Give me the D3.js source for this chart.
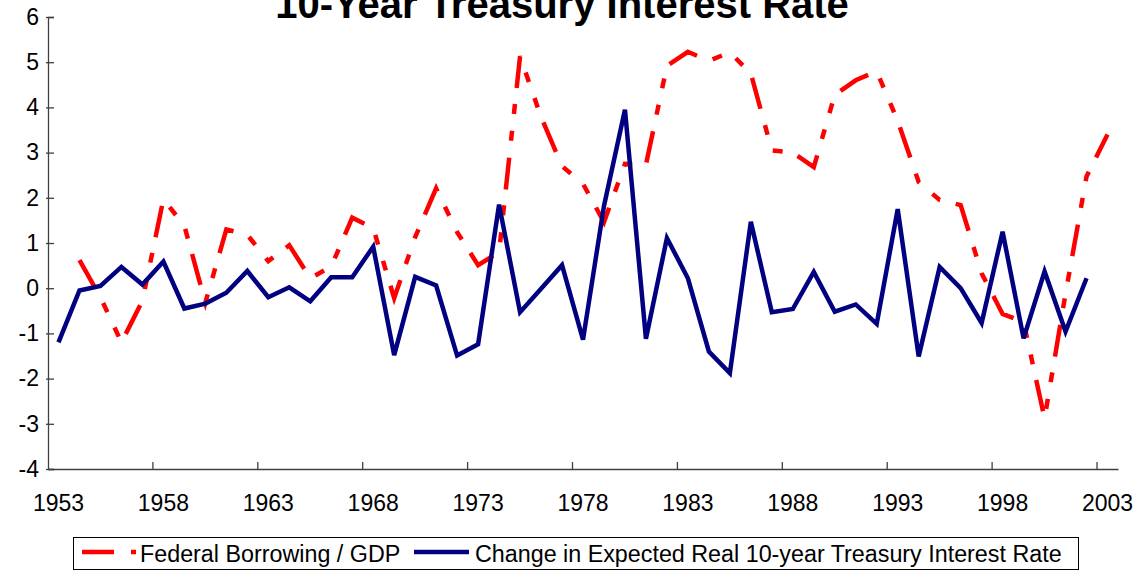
<!DOCTYPE html>
<html>
<head>
<meta charset="utf-8">
<script src="https://cdn.jsdelivr.net/npm/d3@7"></script>
<style>
  html, body { margin: 0; padding: 0; background: #fff; }
  svg { display: block; font-family: Arial, "Liberation Sans", sans-serif; }
</style>
</head>
<body>
<svg id="chart" width="1139" height="571"></svg>
<script>
// ---- Data ----
const years = [1953,1954,1955,1956,1957,1958,1959,1960,1961,1962,1963,1964,1965,1966,1967,1968,1969,1970,1971,1972,1973,1974,1975,1976,1977,1978,1979,1980,1981,1982,1983,1984,1985,1986,1987,1988,1989,1990,1991,1992,1993,1994,1995,1996,1997,1998,1999,2000,2001,2002,2003];

// Federal Borrowing / GDP (1954-2003)
const borrowingYears = years.slice(1);
const borrowing = [0.62,-0.20,-1.20,-0.28,1.97,1.38,-0.32,1.30,1.18,0.60,0.95,0.22,0.48,1.56,1.33,-0.22,1.13,2.21,1.24,0.51,0.80,5.13,3.79,2.70,2.31,1.46,2.75,2.73,4.92,5.23,5.03,5.22,4.75,3.05,3.00,2.68,4.28,4.60,4.80,3.70,2.35,1.95,1.84,0.33,-0.57,-0.75,-2.88,-0.12,2.47,3.40];

// Change in Expected Real 10-year Treasury Interest Rate (1953-2002)
const rateYears = years.slice(0, 50);
const rateChange = [-1.20,-0.05,0.05,0.47,0.08,0.59,-0.45,-0.34,-0.10,0.38,-0.20,0.02,-0.29,0.24,0.24,0.92,-1.48,0.25,0.06,-1.49,-1.24,1.85,-0.53,-0.01,0.51,-1.14,1.82,3.95,-1.12,1.11,0.22,-1.40,-1.88,1.47,-0.53,-0.46,0.36,-0.52,-0.36,-0.79,1.75,-1.51,0.47,0.00,-0.77,1.25,-1.11,0.37,-0.96,0.22];

const yTicks = [-4,-3,-2,-1,0,1,2,3,4,5,6];
const xLabelYears = [1953,1958,1963,1968,1973,1978,1983,1988,1993,1998,2003];
const xTickYears = [1958,1963,1968,1973,1978,1983,1988,1993,1998,2003];

const titleText = "10-Year Treasury Interest Rate";
const seriesNames = ["Federal Borrowing / GDP", "Change in Expected Real 10-year Treasury Interest Rate"];

(function () {
// ---- Layout ----
const mLeft = 48, mRight = 1118, mTop = 17, mBottom = 469;
const svg = d3.select("#chart");

const x = d3.scaleBand().domain(years).range([mLeft, mRight]).padding(0);
const cx = yr => x(yr) + x.bandwidth() / 2;
const y = d3.scaleLinear().domain([-4, 6]).range([mBottom, mTop]);

const axisColor = "#404040";

// Title
svg.append("text")
  .attr("x", 562).attr("y", 18)
  .attr("text-anchor", "middle")
  .attr("font-size", 40).attr("font-weight", "bold")
  .attr("fill", "#000")
  .text(titleText);

// Y axis
const yAxis = svg.append("g")
  .attr("transform", `translate(${mLeft},0)`)
  .call(d3.axisLeft(y).tickValues(yTicks).tickSize(-6).tickPadding(9).tickFormat(d => String(d)));
yAxis.select(".domain").attr("stroke", axisColor).attr("stroke-width", 1.3);
yAxis.selectAll(".tick line").attr("stroke", axisColor).attr("stroke-width", 1.3).attr("x1", -2);
yAxis.selectAll(".tick text").attr("font-size", 23).attr("fill", "#000")
  .attr("font-family", "Arial, 'Liberation Sans', sans-serif");

// X axis (labels at category centers)
const xAxis = svg.append("g")
  .attr("transform", `translate(0,${mBottom})`)
  .call(d3.axisBottom(x).tickValues(xLabelYears).tickSize(0).tickPadding(26).tickFormat(d => String(d)));
xAxis.select(".domain").attr("stroke", axisColor).attr("stroke-width", 1.3);
xAxis.selectAll(".tick line").remove();
xAxis.selectAll(".tick text").attr("font-size", 23).attr("fill", "#000")
  .attr("font-family", "Arial, 'Liberation Sans', sans-serif");

// X tick marks at category boundaries (every 5 years), pointing inside
svg.append("g").selectAll("line").data(xTickYears).join("line")
  .attr("x1", d => x(d)).attr("x2", d => x(d))
  .attr("y1", mBottom).attr("y2", mBottom - 7)
  .attr("stroke", axisColor).attr("stroke-width", 1.3);

// Lines
const lineGen = d3.line().x(d => cx(d[0])).y(d => y(d[1]));
const redDash = "32,17,10,17,10,16";

svg.append("path")
  .datum(borrowingYears.map((yr, i) => [yr, borrowing[i]]))
  .attr("d", lineGen)
  .attr("fill", "none")
  .attr("stroke", "#FF0000")
  .attr("stroke-width", 4.5)
  .attr("stroke-dasharray", redDash)
  .attr("stroke-linejoin", "miter");

svg.append("path")
  .datum(rateYears.map((yr, i) => [yr, rateChange[i]]))
  .attr("d", lineGen)
  .attr("fill", "none")
  .attr("stroke", "#000080")
  .attr("stroke-width", 4.5)
  .attr("stroke-linejoin", "miter");

// Legend
const lg = svg.append("g");
lg.append("rect")
  .attr("x", 73.5).attr("y", 537.5).attr("width", 1005).attr("height", 32)
  .attr("fill", "#fff").attr("stroke", "#000").attr("stroke-width", 1);
lg.append("line")
  .attr("x1", 82).attr("x2", 136).attr("y1", 552).attr("y2", 552)
  .attr("stroke", "#FF0000").attr("stroke-width", 4.5).attr("stroke-dasharray", redDash);
lg.append("text")
  .attr("x", 140).attr("y", 561.5)
  .attr("font-size", 23.3).attr("fill", "#000")
  .text(seriesNames[0]);
lg.append("line")
  .attr("x1", 414).attr("x2", 469).attr("y1", 552).attr("y2", 552)
  .attr("stroke", "#000080").attr("stroke-width", 4.5);
lg.append("text")
  .attr("x", 475).attr("y", 561.5)
  .attr("font-size", 23.3).attr("fill", "#000")
  .text(seriesNames[1]);
})();
</script>
</body>
</html>
